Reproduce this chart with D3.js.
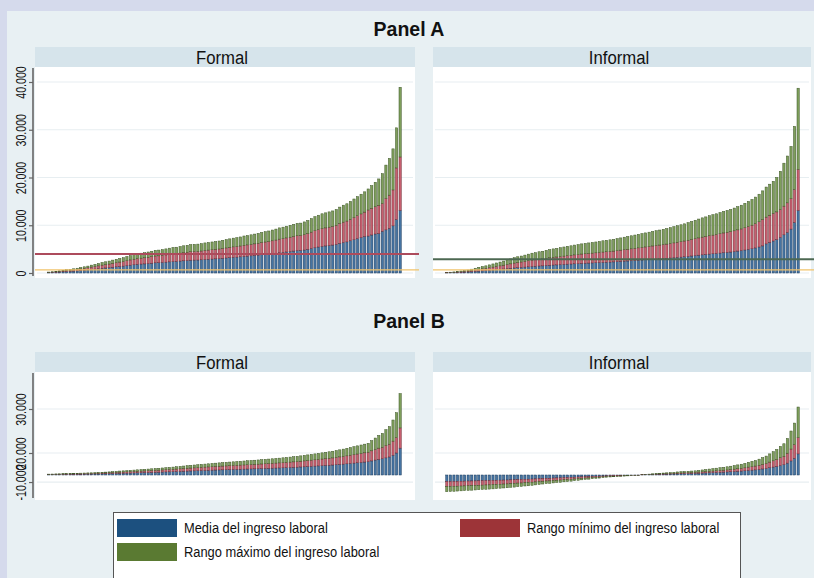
<!DOCTYPE html>
<html><head><meta charset="utf-8">
<script src="https://cdn.jsdelivr.net/npm/d3@7"></script>
<style>
body{margin:0;background:#d5daec;}
svg{display:block}
</style>
</head><body>
<svg id="chart" width="814" height="578"></svg>
<script>
// ---- Panel A: ingreso laboral por ocupación (ordenado) ----
const formalA_media = [
  90,120,150,200,250,310,350,400,440,520,
  580,650,740,820,900,990,1050,1120,1210,1300,
  1370,1440,1550,1640,1730,1820,1870,1910,1980,2050,
  2140,2160,2200,2270,2340,2400,2430,2500,2560,2610,
  2680,2700,2720,2770,2830,2880,2920,2970,3010,3080,
  3150,3220,3280,3330,3400,3490,3530,3600,3670,3730,
  3820,3890,3960,4050,4140,4250,4320,4410,4500,4590,
  4680,4700,4810,4950,5130,5310,5440,5580,5670,5760,
  5850,5980,6210,6390,6520,6750,6970,7200,7420,7650,
  7740,7960,8170,8270,8740,9040,9360,9880,11200,13100];
const formalA_min = [
  150,195,260,340,420,525,585,660,750,860,
  975,1090,1240,1365,1500,1650,1760,1875,2025,2160,
  2290,2400,2590,2740,2890,3040,3110,3190,3300,3410,
  3560,3600,3680,3790,3900,4010,4050,4160,4280,4350,
  4460,4500,4540,4610,4730,4800,4880,4950,5030,5140,
  5250,5360,5480,5550,5660,5810,5890,6000,6110,6230,
  6380,6490,6600,6750,6900,7090,7200,7350,7500,7650,
  7800,7840,8030,8250,8550,8850,9080,9300,9450,9600,
  9750,9980,10350,10650,10880,11250,11630,12000,12380,12750,
  13200,13540,13870,14180,14560,15600,16300,17400,22000,24300];
const formalA_max = [
  200,260,350,450,560,700,780,880,1000,1150,
  1300,1450,1650,1820,2000,2200,2350,2500,2700,2880,
  3050,3200,3450,3650,3850,4050,4150,4250,4400,4550,
  4750,4800,4900,5050,5200,5350,5400,5550,5700,5800,
  5950,6000,6050,6150,6300,6400,6500,6600,6700,6850,
  7000,7150,7300,7400,7550,7750,7850,8000,8150,8300,
  8500,8650,8800,9000,9200,9450,9600,9800,10000,10200,
  10400,10450,10700,11000,11400,11800,12100,12400,12600,12800,
  13000,13300,13800,14200,14500,15000,15500,16000,16500,17000,
  17600,18300,19000,19700,20800,22600,24000,26000,30400,38900];

const informalA_media = [
  30,60,80,110,140,170,210,270,340,400,
  450,500,560,630,700,760,830,910,980,1060,
  1120,1170,1240,1300,1370,1400,1470,1500,1570,1620,
  1670,1700,1750,1800,1850,1880,1930,1960,2010,2050,
  2080,2110,2150,2180,2230,2260,2290,2330,2380,2430,
  2480,2520,2570,2620,2670,2720,2770,2820,2870,2920,
  2970,3020,3070,3140,3200,3270,3330,3400,3480,3560,
  3650,3730,3810,3880,3960,4030,4090,4170,4260,4320,
  4390,4490,4590,4690,4820,4950,5080,5250,5450,5680,
  6100,6400,6700,7000,7450,8000,8500,9200,10600,13100];
const informalA_min = [
  65,110,150,210,270,330,400,520,650,780,
  880,980,1110,1240,1370,1500,1630,1790,1920,2080,
  2210,2310,2440,2570,2700,2760,2890,2960,3090,3190,
  3280,3350,3450,3540,3640,3710,3800,3870,3970,4030,
  4100,4160,4230,4290,4390,4450,4520,4580,4680,4780,
  4880,4970,5070,5170,5270,5360,5460,5560,5660,5750,
  5850,5950,6050,6180,6310,6440,6570,6700,6860,7020,
  7180,7350,7510,7640,7800,7930,8060,8220,8390,8520,
  8650,8840,9040,9230,9490,9750,10010,10340,10730,11180,
  11700,12100,12480,12800,13300,14000,14700,15600,17500,21700];
const informalA_max = [
  100,170,230,320,420,500,620,800,1000,1200,
  1350,1500,1700,1900,2100,2300,2500,2750,2950,3200,
  3400,3550,3750,3950,4150,4250,4450,4550,4750,4900,
  5050,5150,5300,5450,5600,5700,5850,5950,6100,6200,
  6300,6400,6500,6600,6750,6850,6950,7050,7200,7350,
  7500,7650,7800,7950,8100,8250,8400,8550,8700,8850,
  9000,9150,9300,9500,9700,9900,10100,10300,10550,10800,
  11050,11300,11550,11750,12000,12200,12400,12650,12900,13100,
  13300,13600,13900,14200,14600,15000,15400,15900,16500,17200,
  18000,18600,19200,20000,21300,23000,24500,26500,30700,38700];

// horizontal reference levels in Panel A
const formalA_lineas = [4000, 650];
const informalA_lineas = [2900, 650];

// ---- Panel B ----
const formalB_media = [
  80,90,100,110,120,130,140,150,160,170,
  190,200,210,230,240,260,280,300,320,340,
  380,400,420,440,470,500,520,540,570,590,
  620,640,670,700,730,760,790,820,860,890,
  920,950,980,1010,1040,1070,1100,1130,1160,1180,
  1210,1230,1260,1290,1310,1340,1360,1390,1410,1440,
  1460,1490,1520,1550,1580,1610,1640,1680,1710,1740,
  1780,1830,1870,1920,1970,2020,2070,2120,2170,2220,
  2270,2340,2400,2470,2550,2620,2700,2780,2860,2940,
  3020,3200,3400,3550,3700,3900,4100,4500,5000,6100];
const formalB_min = [
  140,160,180,190,210,230,240,270,280,300,
  320,350,360,390,420,450,480,510,550,590,
  650,680,720,760,810,850,890,930,970,1020,
  1060,1100,1150,1200,1250,1300,1350,1410,1470,1530,
  1580,1630,1680,1740,1790,1840,1890,1940,1990,2030,
  2070,2120,2160,2200,2250,2290,2330,2380,2420,2460,
  2510,2560,2610,2660,2710,2760,2820,2870,2930,2990,
  3050,3130,3210,3290,3370,3460,3540,3630,3720,3800,
  3890,4000,4120,4230,4360,4500,4640,4770,4910,5050,
  5180,5500,5800,6100,6300,6700,7000,7700,8500,10700];
const formalB_max = [
  200,220,250,270,290,320,340,370,390,420,
  450,480,500,540,580,620,660,710,760,820,
  900,950,1000,1060,1120,1180,1240,1290,1350,1410,
  1470,1530,1600,1660,1730,1800,1880,1960,2040,2120,
  2200,2270,2340,2410,2480,2550,2620,2690,2760,2820,
  2880,2940,3000,3060,3120,3180,3240,3300,3360,3420,
  3480,3550,3620,3690,3760,3830,3910,3990,4070,4150,
  4240,4350,4460,4570,4680,4800,4920,5040,5160,5280,
  5400,5560,5720,5880,6060,6250,6440,6630,6820,7010,
  7200,7800,8400,9000,9450,10300,11000,12500,14150,18500];

const informalB_media = [
  -1500,-1480,-1460,-1440,-1420,-1400,-1380,-1360,-1340,-1320,
  -1300,-1280,-1260,-1240,-1220,-1180,-1160,-1140,-1100,-1080,
  -1040,-1020,-980,-960,-920,-880,-840,-800,-760,-740,
  -700,-660,-640,-600,-580,-540,-500,-460,-420,-380,
  -360,-320,-280,-260,-220,-180,-160,-140,-120,-100,
  -80,-70,-50,-40,-30,40,60,80,110,130,
  150,170,190,210,230,260,280,300,320,340,
  360,400,430,470,510,540,580,620,650,700,
  740,790,840,890,960,1040,1100,1170,1270,1380,
  1490,1650,1800,1950,2150,2350,2700,3200,3800,4800];
const informalB_min = [
  -2650,-2620,-2590,-2550,-2520,-2480,-2450,-2410,-2380,-2340,
  -2310,-2270,-2240,-2200,-2170,-2100,-2060,-2030,-1960,-1920,
  -1850,-1820,-1750,-1710,-1640,-1570,-1500,-1430,-1360,-1330,
  -1260,-1190,-1150,-1080,-1050,-980,-910,-840,-770,-700,
  -660,-590,-520,-490,-420,-350,-310,-280,-240,-210,
  -170,-140,-100,-80,-55,65,95,125,170,210,
  250,280,310,350,390,440,470,500,530,560,
  600,660,720,780,840,900,960,1030,1090,1160,
  1240,1330,1420,1510,1640,1790,1910,2030,2210,2420,
  2630,2930,3230,3520,3920,4260,4950,5900,6900,8500];
const informalB_max = [
  -3800,-3750,-3700,-3650,-3600,-3550,-3500,-3450,-3400,-3350,
  -3300,-3250,-3200,-3150,-3100,-3000,-2950,-2900,-2800,-2750,
  -2650,-2600,-2500,-2450,-2350,-2250,-2150,-2050,-1950,-1900,
  -1800,-1700,-1650,-1550,-1500,-1400,-1300,-1200,-1100,-1000,
  -950,-850,-750,-700,-600,-500,-450,-400,-350,-300,
  -250,-200,-150,-120,-80,100,150,200,280,340,
  400,450,500,560,620,700,750,800,850,900,
  950,1050,1150,1250,1350,1450,1550,1650,1750,1870,
  2000,2150,2300,2450,2650,2900,3100,3300,3600,3950,
  4300,4800,5300,5800,6500,7100,8300,10000,11800,15450];

// axis ticks
const ticksA = [0, 10000, 20000, 30000, 40000];
const ticksB = [15000, 5000, -1600];
const tickLabelsB = ["30.000", "20.000", "-10.000"];

const panelTitles = ["Panel A", "Panel B"];
const stripLabels = ["Formal", "Informal"];
const legendLabels = ["Media del ingreso laboral", "Rango mínimo del ingreso laboral", "Rango máximo del ingreso laboral"];

// ---------------------------------------------------------------
const W = 814, H = 578;
const FONT = "'Liberation Sans', Arial, sans-serif";
const svg = d3.select("#chart");
const fmt = d3.formatLocale({decimal: ",", thousands: ".", grouping: [3], currency: ["$", ""]}).format(",");

const fills   = ["#4674a2", "#c65f6f", "#7e9e5b"];
const strokes = ["#1d3c5e", "#6e2b33", "#3e5628"];
const legendFills = ["#1c507f", "#9d3438", "#5a7a32"];

// narrow-looking text: a horizontally squeezed Liberation Sans
function ctext(parent, x, y, str, size, sx, opts = {}) {
  const g = parent.append("g").attr("transform", `translate(${x},${y}) scale(${sx},1)`);
  return g.append("text").attr("x", 0).attr("y", 0).attr("dy", "0.36em")
    .attr("text-anchor", opts.anchor || "middle").attr("font-family", FONT)
    .attr("font-weight", opts.weight || "normal").attr("font-size", size)
    .attr("fill", "#111").text(str);
}

svg.append("rect").attr("width", W).attr("height", H).attr("fill", "#d5daec");
svg.append("rect").attr("x", 7).attr("y", 11).attr("width", W - 7).attr("height", H - 11).attr("fill", "#e8f0f3");

// titles
ctext(svg, 409, 28, panelTitles[0], 21, 0.93, {weight: "bold"});
ctext(svg, 409, 320, panelTitles[1], 21, 0.93, {weight: "bold"});

const cols = [
  {x0: 35, x1: 415, bx0: 47.2, bx1: 401.8},
  {x0: 433, x1: 811, bx0: 445.2, bx1: 799.8}
];

function drawPanel(opts) {
  const {col, label, stripTop, plotTop, plotBottom, y, media, minimo, maximo, lineas, lineColors, axis, ticks, tickLabels, axisTop} = opts;
  const g = svg.append("g");
  // strip
  g.append("rect").attr("x", col.x0).attr("y", stripTop).attr("width", col.x1 - col.x0)
    .attr("height", plotTop - stripTop).attr("fill", "#d6e4eb");
  ctext(g, (col.x0 + col.x1) / 2 - 3, (stripTop + plotTop) / 2, label, 19, 0.88);
  // plot area
  g.append("rect").attr("x", col.x0).attr("y", plotTop).attr("width", col.x1 - col.x0)
    .attr("height", plotBottom - plotTop).attr("fill", "#ffffff");
  // grid
  g.selectAll("line.grid").data(ticks).join("line").attr("class", "grid")
    .attr("x1", col.x0 + 2).attr("x2", col.x1 - 2)
    .attr("y1", d => y(d)).attr("y2", d => y(d))
    .attr("stroke", "#e7eef1").attr("stroke-width", 1.2);

  const x = d3.scaleBand().domain(d3.range(maximo.length)).range([col.bx0, col.bx1])
    .paddingInner(0.36).paddingOuter(0.15);
  const rows = maximo.map((m, i) => ({i, lv: [0, media[i], minimo[i], m]}));
  [0, 1, 2].forEach(k => {
    g.append("g").selectAll("rect").data(rows).join("rect")
      .attr("x", d => x(d.i)).attr("width", x.bandwidth())
      .attr("y", d => Math.min(y(d.lv[k]), y(d.lv[k + 1])))
      .attr("height", d => Math.abs(y(d.lv[k]) - y(d.lv[k + 1])))
      .attr("fill", fills[k]).attr("stroke", strokes[k]).attr("stroke-width", 0.5);
  });
  if (lineas) {
    g.selectAll("line.ref").data(lineas).join("line").attr("class", "ref")
      .attr("x1", col.x0).attr("x2", col.x1 + 4)
      .attr("y1", d => y(d)).attr("y2", d => y(d))
      .attr("stroke", (d, i) => lineColors[i]).attr("stroke-width", (d, i) => i === 0 ? 2 : 1.4);
  }
  if (axis) {
    const ax = g.append("g").attr("transform", `translate(${col.x0 - 2},0)`)
      .call(d3.axisLeft(y).tickValues(ticks).tickSize(4).tickSizeOuter(0)
        .tickFormat((d, i) => tickLabels ? tickLabels[i] : fmt(d)));
    ax.select(".domain").remove();
    ax.append("line").attr("x1", 0).attr("x2", 0).attr("y1", axisTop).attr("y2", plotBottom - 2)
      .attr("stroke", "#666").attr("stroke-width", 1.6);
    ax.selectAll(".tick line").attr("stroke", "#666").attr("stroke-width", 1.2);
    ax.selectAll(".tick text").attr("transform", "rotate(-90) scale(0.76,1)")
      .attr("x", 0).attr("y", -7).attr("dy", 0).attr("text-anchor", "middle")
      .attr("font-family", FONT).attr("font-size", 14).attr("fill", "#111");
  }
}

// Panel A
const yA = d3.scaleLinear().domain([0, 40000]).range([273, 82]);
drawPanel({col: cols[0], label: stripLabels[0], stripTop: 47, plotTop: 67, plotBottom: 278, y: yA,
  media: formalA_media, minimo: formalA_min, maximo: formalA_max,
  lineas: formalA_lineas, lineColors: ["#ad4b5c", "#f1c36b"], axis: true, ticks: ticksA, axisTop: 68});
drawPanel({col: cols[1], label: stripLabels[1], stripTop: 47, plotTop: 67, plotBottom: 278, y: yA,
  media: informalA_media, minimo: informalA_min, maximo: informalA_max,
  lineas: informalA_lineas, lineColors: ["#4d6852", "#f1c36b"], axis: false, ticks: ticksA});

// Panel B
const yB = d3.scaleLinear().domain([0, 10000]).range([475, 431]);
drawPanel({col: cols[0], label: stripLabels[0], stripTop: 352, plotTop: 372, plotBottom: 500, y: yB,
  media: formalB_media, minimo: formalB_min, maximo: formalB_max,
  axis: true, ticks: ticksB, tickLabels: tickLabelsB, axisTop: 373});
drawPanel({col: cols[1], label: stripLabels[1], stripTop: 352, plotTop: 372, plotBottom: 500, y: yB,
  media: informalB_media, minimo: informalB_min, maximo: informalB_max,
  axis: false, ticks: ticksB});

// legend
const lg = svg.append("g");
lg.append("rect").attr("x", 113.5).attr("y", 512.5).attr("width", 627).attr("height", 80)
  .attr("fill", "#ffffff").attr("stroke", "#555").attr("stroke-width", 1);
const legendPos = [[117, 519], [460, 519], [117, 543]];
legendLabels.forEach((t, i) => {
  const [lx, ly] = legendPos[i];
  lg.append("rect").attr("x", lx).attr("y", ly).attr("width", 60).attr("height", 18).attr("fill", legendFills[i]);
  ctext(lg, lx + 67, ly + 9, t, 14, 0.92, {anchor: "start"});
});
</script>
</body></html>
